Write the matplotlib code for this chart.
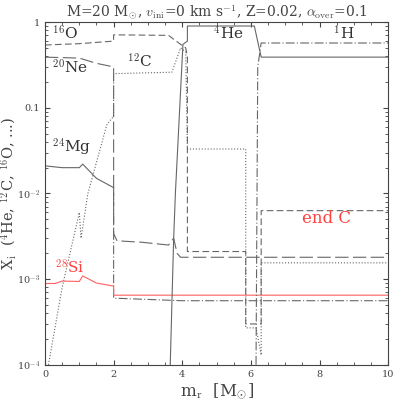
import matplotlib
matplotlib.use("Agg")
import matplotlib.pyplot as plt

plt.rcParams["font.family"] = "DejaVu Serif"
plt.rcParams["mathtext.fontset"] = "cm"

# abundance profiles (mass coordinate, mass fraction)
o16_m = [0.0, 1.0, 2.0, 2.0, 3.6, 3.95, 4.1, 4.15, 4.15, 5.85, 5.85, 6.3, 6.3, 10.0]
o16_x = [0.54, 0.56, 0.60, 0.71, 0.70, 0.55, 0.5, 0.4, 2.1e-3, 2.1e-3, 3e-4, 3e-4, 6.3e-3, 6.3e-3]

c12_m = [0.1, 0.5, 1.0, 1.05, 1.25, 1.8, 2.0, 2.0, 3.7, 3.95, 4.1, 4.15, 5.85, 5.85, 6.15, 6.3, 6.3, 10.0]
c12_x = [1e-4, 8e-4, 6e-3, 3e-3, 1.0e-2, 0.063, 0.08, 0.25, 0.26, 0.5, 0.45, 0.033, 0.033, 2.7e-4, 2.7e-4, 1.3e-4, 1.55e-3, 1.55e-3]

ne20_m = [0.0, 1.0, 1.5, 2.0, 2.0, 2.1, 2.8, 3.6, 3.75, 3.85, 3.95, 10.0]
ne20_x = [0.39, 0.38, 0.33, 0.30, 3.4e-3, 2.8e-3, 2.7e-3, 2.5e-3, 3.0e-3, 2.0e-3, 1.8e-3, 1.8e-3]

mg24_core_m = [0.0, 0.5, 1.0, 1.1, 1.5, 2.0]
mg24_core_x = [0.021, 0.020, 0.020, 0.022, 0.015, 0.0117]
mg24_m = [2.0, 2.0, 4.0, 10.0]
mg24_x = [0.0117, 6.0e-4, 5.6e-4, 5.6e-4]

si28_m = [0.0, 0.3, 0.5, 1.0, 1.1, 1.5, 2.0, 2.0, 10.0]
si28_x = [8.9e-4, 8.9e-4, 9.5e-4, 9.4e-4, 1.09e-3, 9.0e-4, 8.3e-4, 6.5e-4, 6.5e-4]

he4_m = [3.65, 3.75, 3.8, 4.02, 4.15, 4.15, 6.1, 6.3, 10.0]
he4_x = [1e-4, 3e-3, 1e-2, 0.55, 0.6, 0.9, 0.9, 0.39, 0.39]

h1_m = [6.15, 6.2, 6.3, 10.0]
h1_x = [1e-4, 0.3, 0.57, 0.57]

fig = plt.figure(figsize=(4.09, 4.09), dpi=100)
ax = fig.add_axes([0.11, 0.108, 0.839, 0.838])
gray = "#666666"

ax.plot(o16_m, o16_x, color=gray, lw=0.8, ls=(0, (6, 3)))
ax.plot(c12_m, c12_x, color=gray, lw=0.8, ls=":")
ax.plot(ne20_m, ne20_x, color=gray, lw=0.8, ls=(0, (12, 4)))
ax.plot(mg24_core_m, mg24_core_x, color=gray, lw=0.8)
ax.plot(mg24_m, mg24_x, color=gray, lw=0.8, ls=(0, (8, 2, 1, 2)))
ax.plot(si28_m, si28_x, color="#ff6060", lw=0.8)
ax.plot(he4_m, he4_x, color=gray, lw=0.8)
ax.plot(h1_m, h1_x, color=gray, lw=0.8, ls=(0, (8, 2, 1, 2)))

ax.set_yscale("log")
ax.set_xlim(0, 10)
ax.set_ylim(1e-4, 1)
ax.minorticks_on()
ax.tick_params(which="both", direction="in", top=True, right=True, labelsize=7, colors="#444444")
ax.set_yticks([1e-4, 1e-3, 1e-2, 0.1, 1])
ax.set_yticklabels(["10$^{-4}$", "10$^{-3}$", "10$^{-2}$", "0.1", "1"])
for s in ax.spines.values():
    s.set_color("#444444")

ax.text(0.2, 0.62, "$^{16}$O", fontsize=11, color="#333333")
ax.text(0.2, 0.25, "$^{20}$Ne", fontsize=11, color="#333333")
ax.text(2.4, 0.29, "$^{12}$C", fontsize=11, color="#333333")
ax.text(4.9, 0.62, "$^{4}$He", fontsize=11, color="#333333")
ax.text(8.4, 0.62, "$^{1}$H", fontsize=11, color="#333333")
ax.text(0.2, 0.03, "$^{24}$Mg", fontsize=11, color="#333333")
ax.text(0.3, 1.15e-3, "$^{28}$Si", fontsize=11, color="#ff4040")
ax.text(7.5, 0.0045, "end C", fontsize=12, color="#ff4040")

ax.set_xlabel(r"m$_{\rm r}$  [M$_{\odot}$]", fontsize=12, color="#444444", labelpad=2)
ax.set_ylabel(r"X$_{\rm i}$  ($^4$He, $^{12}$C, $^{16}$O, ...)", fontsize=10.5, color="#444444", labelpad=-1)
ax.set_title(r"M=20 M$_{\odot}$, $v_{\rm ini}$=0 km s$^{-1}$, Z=0.02, $\alpha_{\rm over}$=0.1",
             fontsize=10, color="#444444", pad=4)

fig.savefig("out.png", dpi=100)
